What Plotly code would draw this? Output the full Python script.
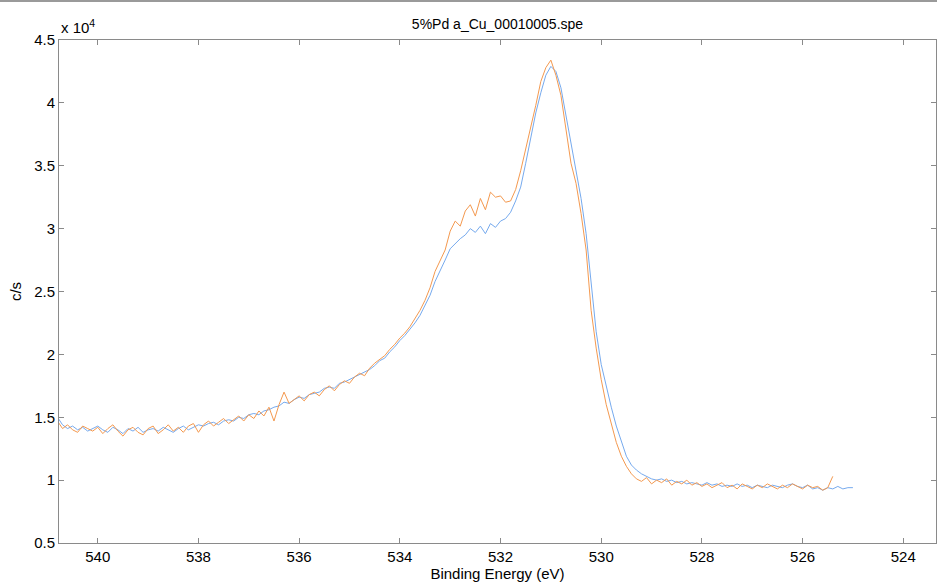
import numpy as np
import plotly.graph_objects as go

# O 1s region, two acquisitions on a 0.1 eV grid (counts per second)
start_ev = 540.8
step_ev = 0.1

scan_a = [  # blue trace, 540.8 -> 525.0 eV
    15000, 14400, 14100, 14300, 14000, 14200, 13900, 14100, 14300, 14000,
    13800, 14200, 14000, 13700, 14100, 13900, 14200, 13800, 14000, 14100,
    13900, 14200, 14000, 13800, 14100, 14300, 14000, 14200, 14400, 14300,
    14500, 14600, 14400, 14700, 14800, 14700, 15000, 14900, 15200, 15300,
    15200, 15500, 15600, 15800, 15900, 16200, 16100, 16400, 16600, 16500,
    16800, 16900, 17000, 17300, 17400, 17300, 17700, 17800, 18000, 18200,
    18400, 18600, 18800, 19100, 19500, 19700, 20200, 20600, 21100, 21500,
    22000, 22500, 23100, 23900, 24700, 25800, 26600, 27500, 28400, 28800,
    29200, 29500, 30000, 29700, 30200, 29600, 30400, 30100, 30600, 30800,
    31300, 32200, 33300, 35200, 37200, 39200, 40800, 42200, 42900, 42500,
    41200, 39000, 36800, 34500, 32400, 29600, 25600, 21800, 19200, 17400,
    15800, 14300, 13000, 11900, 11200, 10800, 10500, 10300, 10100, 10000,
    10100, 9900, 10000, 9800, 9900, 9700, 9800, 9700, 9600, 9800,
    9600, 9700, 9500, 9600, 9500, 9700, 9500, 9600, 9400, 9600,
    9500, 9400, 9600, 9500, 9400, 9600, 9700, 9500, 9400, 9600,
    9300, 9400, 9200, 9400, 9300, 9500, 9300, 9400, 9400,
]

scan_b = [  # orange trace, 540.8 -> 525.4 eV
    14700, 14100, 14400, 14000, 13800, 14300, 14100, 13900, 14200, 13700,
    14100, 14400, 13900, 13500, 14000, 14200, 13800, 13600, 14100, 14300,
    13700, 14000, 14400, 13900, 14200, 13800, 14300, 14500, 13800, 14400,
    14700, 14300, 14600, 14900, 14500, 14800, 15100, 14700, 15200, 14900,
    15500, 15100, 15800, 14700, 16000, 17000, 16100, 16400, 16700, 16300,
    16800, 17000, 16700, 17200, 17500, 17100, 17600, 17900, 17700, 18200,
    18500, 18300, 18900, 19300, 19600, 19900, 20400, 20800, 21300, 21700,
    22200, 22800, 23500, 24300, 25300, 26600, 27400, 28300, 29800, 30600,
    30200, 31400, 31900, 31000, 32400, 31500, 32900, 32500, 32600, 32100,
    32200, 33100, 34600, 36300, 38200, 39800, 41700, 42800, 43400, 42200,
    40600, 37800, 35200, 33600, 31200, 28300, 23500, 20500, 18000, 16000,
    14400, 13000, 11900, 11100, 10500, 10100, 9900, 10200, 9700, 10000,
    9800, 10100, 9600, 9900, 9700, 10000, 9600, 9800, 9500, 9700,
    9400, 9600, 9800, 9400, 9600, 9300, 9700, 9500, 9300, 9600,
    9400, 9700, 9500, 9300, 9600, 9400, 9700, 9500, 9300, 9600,
    9400, 9500, 9200, 9400, 10300,
]

x_ticks = [540, 538, 536, 534, 532, 530, 528, 526, 524]
y_ticks = [5000, 10000, 15000, 20000, 25000, 30000, 35000, 40000, 45000]
y_tick_text = ["0.5", "1", "1.5", "2", "2.5", "3", "3.5", "4", "4.5"]


def energy_axis(n):
    return np.round(start_ev - step_ev * np.arange(n), 1)


FONT = "Liberation Sans, Arial, Helvetica, sans-serif"
AXIS_GREY = "#8a8a8a"

fig = go.Figure()
fig.add_trace(go.Scatter(x=energy_axis(len(scan_a)), y=scan_a, mode="lines",
                         line=dict(color="#76aaee", width=1), showlegend=False))
fig.add_trace(go.Scatter(x=energy_axis(len(scan_b)), y=scan_b, mode="lines",
                         line=dict(color="#f4994f", width=1), showlegend=False))

axis_common = dict(
    showgrid=False, zeroline=False, showline=True, linecolor=AXIS_GREY,
    linewidth=1, mirror="ticks", ticks="inside", ticklen=5,
    tickcolor=AXIS_GREY, tickfont=dict(family=FONT, size=15, color="black"),
)

fig.update_layout(
    width=937, height=588,
    margin=dict(l=59, r=1, t=40, b=45),
    paper_bgcolor="white", plot_bgcolor="white",
    font=dict(family=FONT, color="black"),
    title=dict(text="5%Pd a_Cu_00010005.spe", x=0.5, xref="paper",
               y=1 - 24 / 588, yanchor="middle",
               font=dict(family=FONT, size=14, color="black")),
    xaxis=dict(range=[540.77, 523.35], tickvals=x_ticks,
               title=dict(text="Binding Energy (eV)", standoff=4,
                          font=dict(family=FONT, size=15, color="black")),
               **axis_common),
    yaxis=dict(range=[5000, 45000], tickvals=y_ticks, ticktext=y_tick_text,
               title=dict(text="c/s", standoff=8,
                          font=dict(family=FONT, size=15, color="black")),
               **axis_common),
    annotations=[dict(text="x 10<sup>4</sup>", xref="paper", yref="paper",
                      x=0, y=1, xanchor="left", yanchor="bottom", yshift=2,
                      showarrow=False,
                      font=dict(family=FONT, size=15, color="black"))],
    shapes=[dict(type="line", xref="paper", yref="paper", x0=-0.07, x1=1.01,
                 y0=1 + 39 / 503, y1=1 + 39 / 503,
                 line=dict(color="#9a9a9a", width=2))],
)

fig.write_html("out.html")
